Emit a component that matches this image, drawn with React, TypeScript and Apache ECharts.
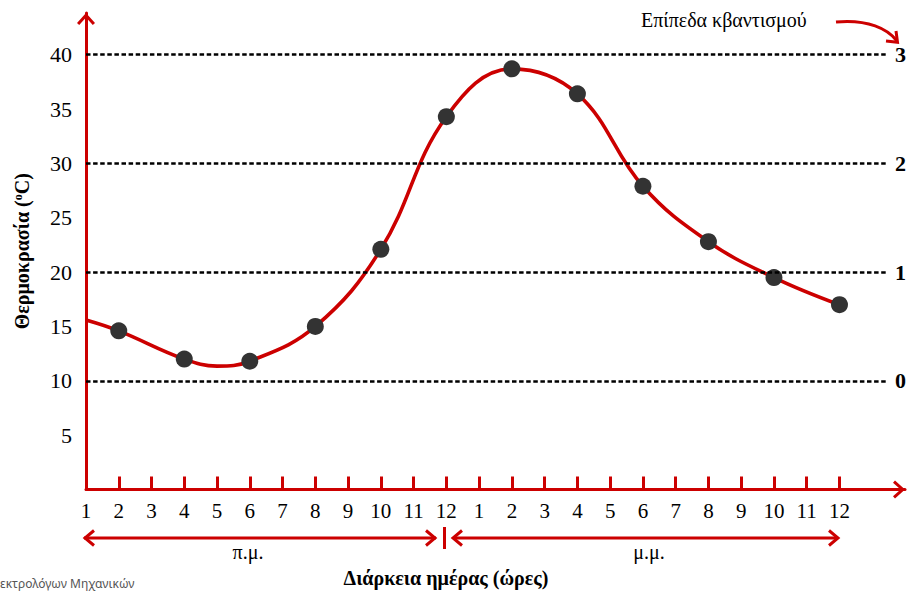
import React, { useEffect, useRef } from 'react';
import * as echarts from 'echarts';

// Hour labels along the horizontal axis (am 1..12, pm 1..12, plus two empty slots before the arrow)
const hourLabels = ['1','2','3','4','5','6','7','8','9','10','11','12','1','2','3','4','5','6','7','8','9','10','11','12','',''];
// Curve values read where the curve departs from the dots (start at 1 a.m., dip near 5 a.m.)
const curveExtraIndex = [0, 4];
const curveExtraTemps = [15.6, 11.35];
// Sampled points (dots), index from 1 a.m.
const sampleIndex = [1,3,5,7,9,11,13,15,17,19,21,23];
const sampleTemps = [14.6,12.0,11.8,15.0,22.1,34.3,38.7,36.4,27.9,22.8,19.5,17.0];
// Quantization levels
const quantLevels = [10,20,30,40];
const quantLabels = ['0','1','2','3'];
const quantEnd = 24.42;

const RED = '#cc0000';
const SERIF = 'serif';
const CHEVRON = 'path://M0,10 L9,0 L18,10 L15.8,12 L9,4.4 L2.2,12 Z';

export default function App() {
  const ref = useRef<HTMLDivElement>(null);
  useEffect(() => {
    if (!ref.current) return;
    const chart = echarts.init(ref.current, null, { renderer: 'svg' });
    const sampleData = sampleIndex.map((x, i) => [x, sampleTemps[i]]);
    const curveData = [
      ...curveExtraIndex.map((x, i) => [x, curveExtraTemps[i]]),
      ...sampleData,
    ].sort((a, b) => a[0] - b[0]);
    const mlData = quantLevels.map((lvl, i) => [
      { coord: [0, lvl], name: quantLabels[i] },
      { coord: [quantEnd, lvl] },
    ]);
    const option: any = {
      animation: false,
      backgroundColor: '#ffffff',
      textStyle: { fontFamily: SERIF },
      grid: { left: 86, right: 1, top: 13, bottom: 101.5, containLabel: false },
      xAxis: [
        {
          type: 'category',
          data: hourLabels,
          boundaryGap: false,
          axisLine: {
            show: true,
            lineStyle: { color: RED, width: 3 },
            symbol: ['none', CHEVRON],
            symbolSize: [18, 12],
            symbolOffset: [0, -6],
          },
          axisTick: {
            show: true,
            inside: true,
            length: 13,
            interval: (index: number) => index >= 1 && index <= 23,
            lineStyle: { color: RED, width: 3 },
          },
          axisLabel: {
            interval: 0,
            margin: 11,
            color: '#000',
            fontFamily: SERIF,
            fontSize: 21,
          },
          splitLine: { show: false },
        },
        {
          type: 'value',
          min: 0,
          max: 25,
          show: false,
          splitLine: { show: false },
        },
      ],
      yAxis: {
        type: 'value',
        min: 0,
        max: 43.84,
        interval: 5,
        axisLine: {
          show: true,
          lineStyle: { color: RED, width: 3 },
          symbol: ['none', CHEVRON],
          symbolSize: [18, 12],
          symbolOffset: [0, -6],
        },
        axisTick: { show: false },
        splitLine: { show: false },
        axisLabel: {
          margin: 14,
          color: '#000',
          fontFamily: SERIF,
          fontSize: 22,
          formatter: (v: number) => (v > 0 && v <= 40 && Math.abs(v % 5) < 1e-9 ? String(v) : ''),
        },
        name: '{b|Θερμοκρασία (}{s|o}{b|C)}',
        nameLocation: 'middle',
        nameGap: 54,
        nameTextStyle: {
          rich: {
            b: { fontFamily: SERIF, fontWeight: 'bold', fontSize: 20, color: '#000' },
            s: { fontFamily: SERIF, fontWeight: 'bold', fontSize: 12, color: '#000', verticalAlign: 'top', padding: [0, 0, 8, 0] },
          },
        },
      },
      series: [
        {
          type: 'line',
          xAxisIndex: 1,
          yAxisIndex: 0,
          data: [],
          z: 1,
          markLine: {
            silent: true,
            symbol: ['none', 'none'],
            lineStyle: { color: '#000', width: 2.6, type: [4.5, 2.6] },
            label: {
              show: true,
              position: 'end',
              distance: 9,
              formatter: '{b}',
              color: '#000',
              fontFamily: SERIF,
              fontWeight: 'bold',
              fontSize: 22,
            },
            emphasis: { disabled: true },
            data: mlData,
          },
        },
        {
          type: 'line',
          xAxisIndex: 1,
          yAxisIndex: 0,
          data: curveData,
          smooth: 0.4,
          showSymbol: false,
          symbol: 'none',
          lineStyle: { color: RED, width: 3.6 },
          z: 2,
        },
        {
          type: 'scatter',
          xAxisIndex: 1,
          yAxisIndex: 0,
          data: sampleData,
          symbolSize: 17,
          itemStyle: { color: '#333333', opacity: 1 },
          z: 3,
        },
      ],
      graphic: [
        {
          type: 'text',
          left: 641,
          top: 10,
          style: { text: 'Επίπεδα κβαντισμού', fontFamily: SERIF, fontSize: 20, fill: '#000' },
        },
        {
          type: 'bezierCurve',
          shape: { x1: 836, y1: 22, cpx1: 868, cpy1: 19, cpx2: 888, cpy2: 29, x2: 897, y2: 41 },
          style: { stroke: RED, lineWidth: 3, fill: 'none' },
        },
        {
          type: 'polyline',
          shape: { points: [[886, 41], [897.5, 42.3], [896, 31]] },
          style: { stroke: RED, lineWidth: 3, fill: 'none' },
        },
        {
          type: 'line',
          shape: { x1: 84, y1: 538, x2: 436, y2: 538 },
          style: { stroke: RED, lineWidth: 3 },
        },
        {
          type: 'polyline',
          shape: { points: [[94, 530.5], [85, 538], [94, 545.5]] },
          style: { stroke: RED, lineWidth: 3, fill: 'none' },
        },
        {
          type: 'polyline',
          shape: { points: [[426, 530.5], [435, 538], [426, 545.5]] },
          style: { stroke: RED, lineWidth: 3, fill: 'none' },
        },
        {
          type: 'line',
          shape: { x1: 444.5, y1: 527, x2: 444.5, y2: 549 },
          style: { stroke: RED, lineWidth: 3 },
        },
        {
          type: 'line',
          shape: { x1: 453, y1: 538, x2: 838, y2: 538 },
          style: { stroke: RED, lineWidth: 3 },
        },
        {
          type: 'polyline',
          shape: { points: [[462, 530.5], [453, 538], [462, 545.5]] },
          style: { stroke: RED, lineWidth: 3, fill: 'none' },
        },
        {
          type: 'polyline',
          shape: { points: [[829, 530.5], [838, 538], [829, 545.5]] },
          style: { stroke: RED, lineWidth: 3, fill: 'none' },
        },
        {
          type: 'text',
          x: 248,
          y: 552,
          style: { text: 'π.μ.', fontFamily: SERIF, fontSize: 20, fill: '#000', align: 'center', verticalAlign: 'middle' },
        },
        {
          type: 'text',
          x: 649,
          y: 552,
          style: { text: 'μ.μ.', fontFamily: SERIF, fontSize: 20, fill: '#000', align: 'center', verticalAlign: 'middle' },
        },
        {
          type: 'text',
          x: 446,
          y: 578,
          style: { text: 'Διάρκεια ημέρας (ώρες)', fontFamily: SERIF, fontWeight: 'bold', fontSize: 20, fill: '#000', align: 'center', verticalAlign: 'middle' },
        },
        {
          type: 'text',
          x: 0,
          y: 583,
          style: { text: 'εκτρολόγων Μηχανικών', fontFamily: 'Noto Sans', fontSize: 12, fill: '#555', align: 'left', verticalAlign: 'middle' },
        },
      ],
    };
    chart.setOption(option);
    return () => chart.dispose();
  }, []);
  return <div ref={ref} style={{ position: 'fixed', left: 0, top: 0, width: 908, height: 591 }} />;
}
